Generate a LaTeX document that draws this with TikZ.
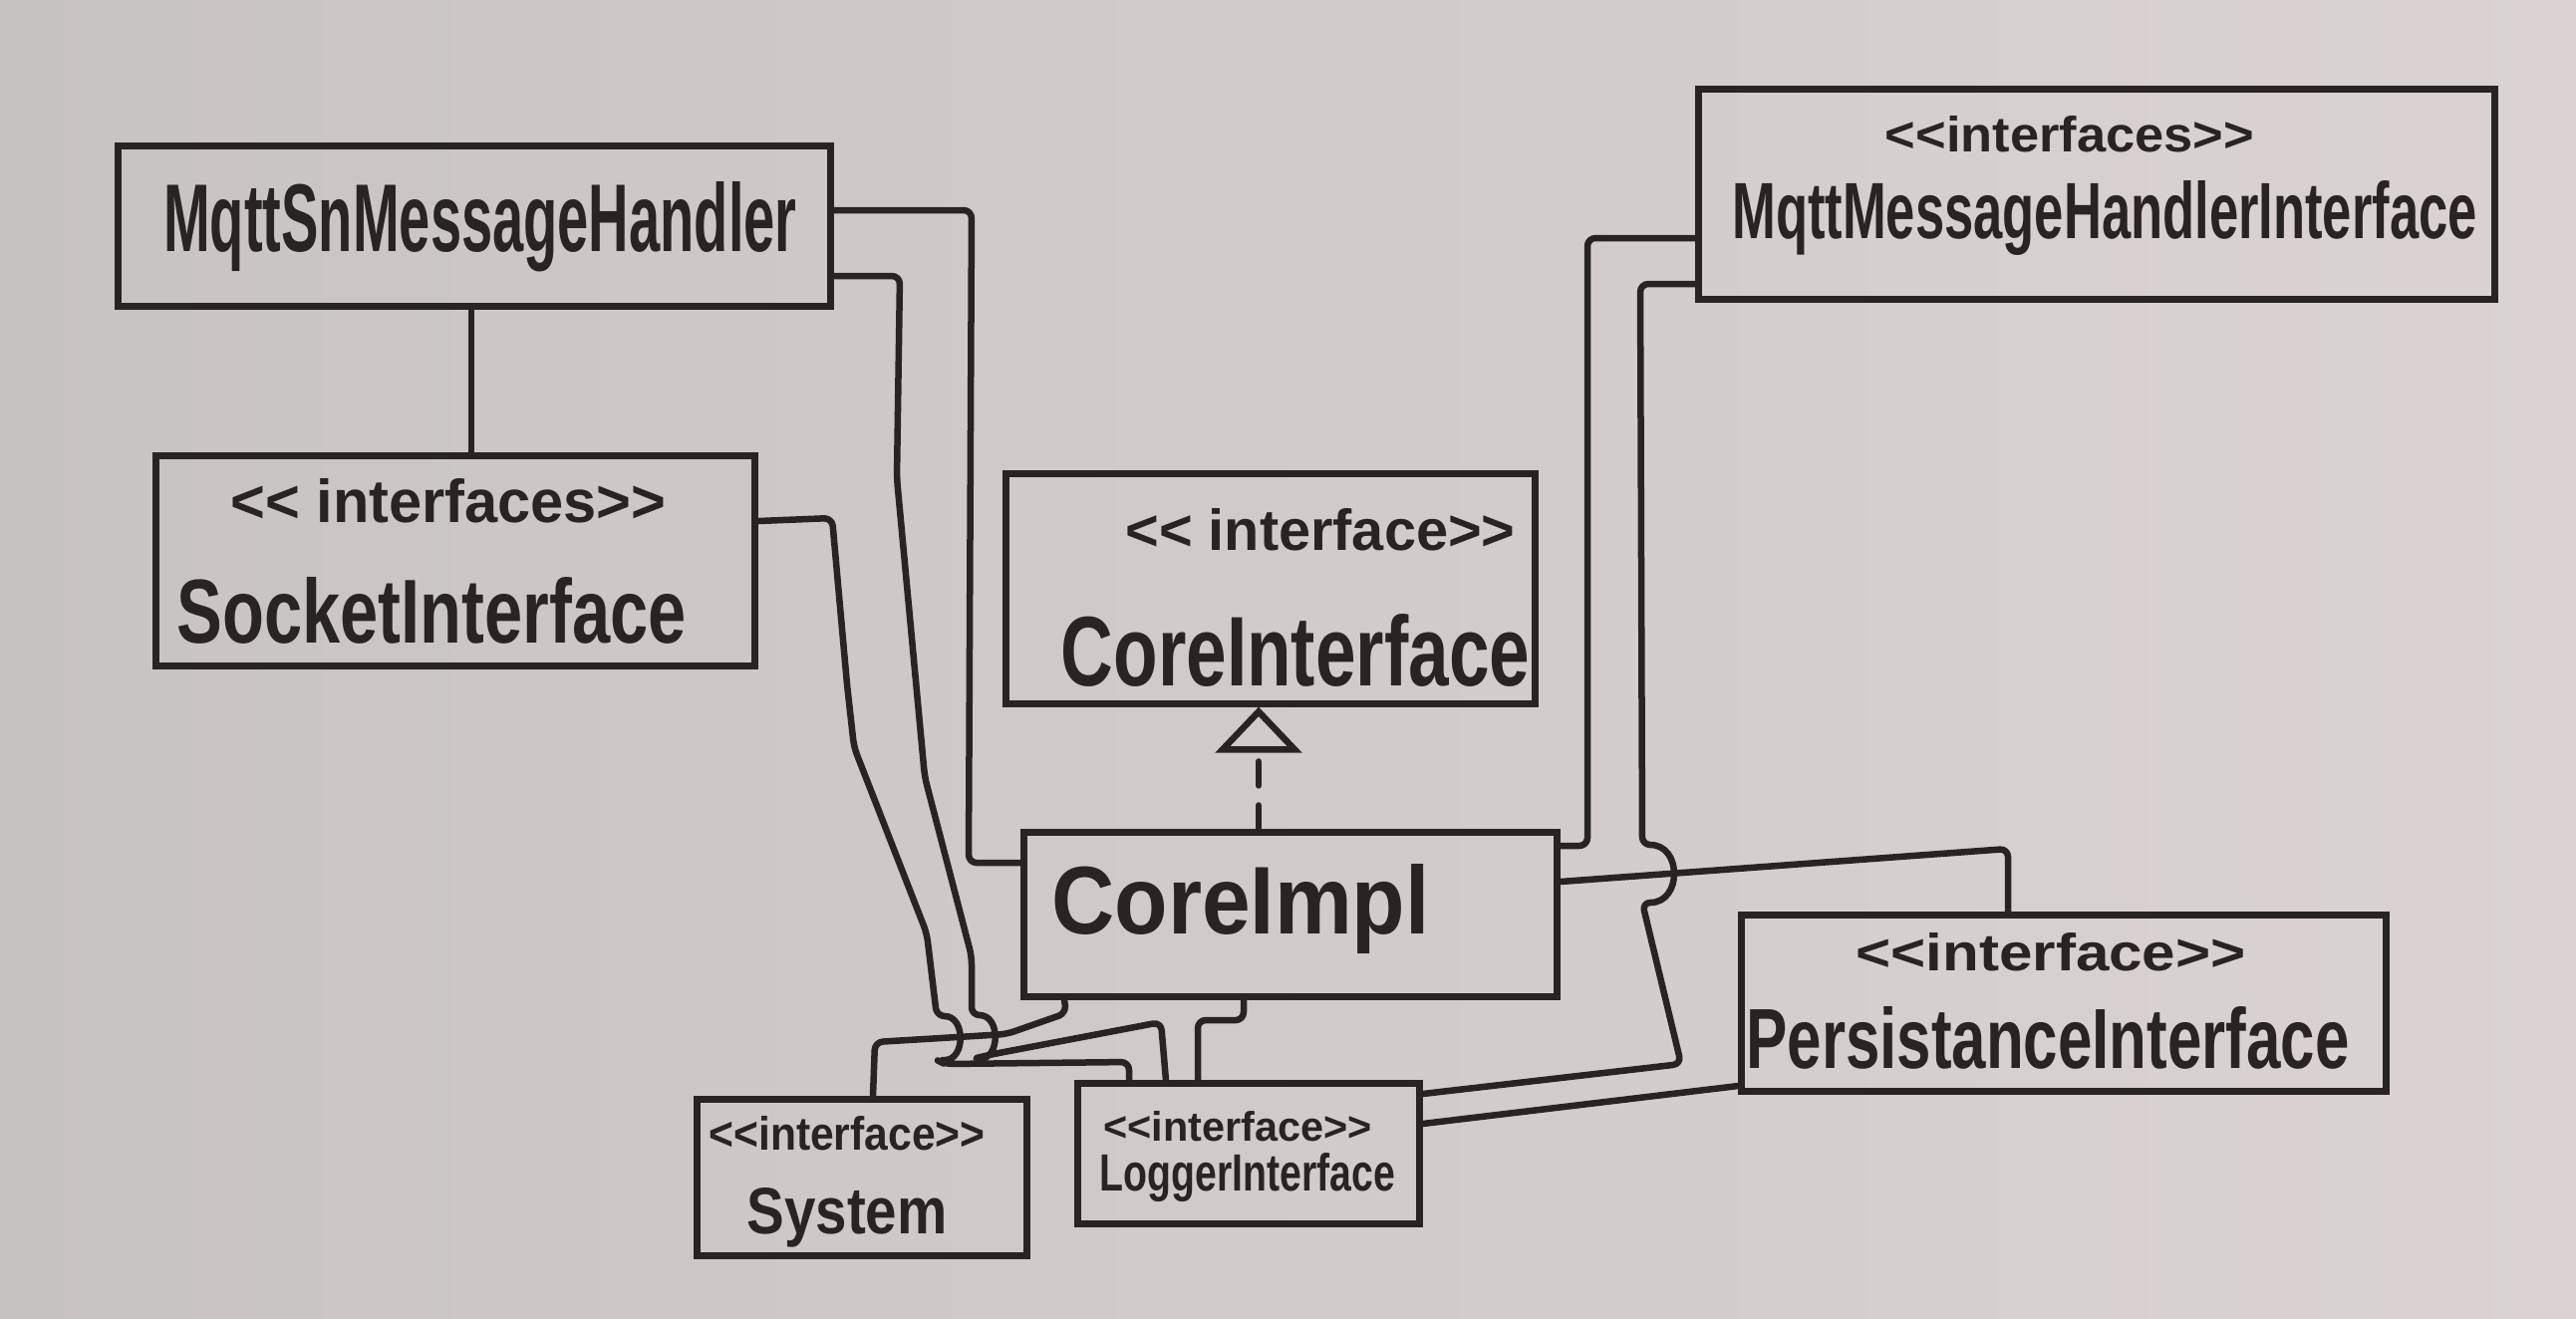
\documentclass[tikz,border=0pt]{standalone}
\usepackage{fontspec}
\usepackage{graphicx}
\newfontfamily\hand{Liberation Sans}
\usetikzlibrary{arrows.meta}
\definecolor{ink}{RGB}{40,36,36}
\definecolor{wbL}{RGB}{198,196,194}
\definecolor{wbR}{RGB}{218,211,209}
\newcommand{\hw}[3]{\resizebox{#1}{#2}{\hand\bfseries #3}}
\begin{document}
\begin{tikzpicture}[x=0.01cm,y=-0.01cm,
  box/.style={draw=ink, line width=0.07cm, rectangle, inner sep=0pt},
  txt/.style={text=ink, inner sep=0pt},
  wire/.style={draw=ink, line width=0.065cm, rounded corners=0.08cm, line cap=round, line join=round}]
\useasboundingbox (0,0) rectangle (2585,1323);
\fill[left color=wbL, right color=wbR] (0,0) rectangle (2585,1323);

% boxes
\node[box, minimum width=7.15cm, minimum height=1.61cm] (mqttsn) at (476,227) {};
\node[box, minimum width=7.98cm, minimum height=2.10cm] (mqttif) at (2104,195) {};
\node[box, minimum width=6.01cm, minimum height=2.10cm] (socket) at (457,563) {};
\node[box, minimum width=5.30cm, minimum height=2.30cm] (coreif) at (1275,591) {};
\node[box, minimum width=5.34cm, minimum height=1.64cm] (coreimpl) at (1295,918) {};
\node[box, minimum width=6.46cm, minimum height=1.76cm] (persist) at (2071,1007) {};
\node[box, minimum width=3.30cm, minimum height=1.56cm] (system) at (865,1182) {};
\node[box, minimum width=3.42cm, minimum height=1.40cm] (logger) at (1253,1158) {};

% texts
\node[txt] (mqttsnT) at (482,228) {\hw{6.35cm}{0.70cm}{MqttSnMessageHandler}};
\node[txt] (mqttifS) at (2077,135) {\hw{3.7cm}{0.36cm}{<{}<interfaces>{}>}};
\node[txt] (mqttifT) at (2112,219) {\hw{7.47cm}{0.58cm}{MqttMessageHandlerInterface}};
\node[txt] (socketS) at (450,503) {\hw{4.37cm}{0.44cm}{<{}< interfaces>{}>}};
\node[txt] (socketT) at (433,613) {\hw{5.11cm}{0.66cm}{SocketInterface}};
\node[txt] (coreifS) at (1325,532) {\hw{3.91cm}{0.42cm}{<{}< interface>{}>}};
\node[txt] (coreifT) at (1300,653) {\hw{4.70cm}{0.72cm}{CoreInterface}};
\node[txt] (coreimplT) at (1245,912) {\hw{3.79cm}{0.70cm}{CoreImpl}};
\node[txt] (persistS) at (2058,956) {\hw{3.91cm}{0.38cm}{<{}<interface>{}>}};
\node[txt] (persistT) at (2055,1042) {\hw{6.05cm}{0.62cm}{PersistanceInterface}};
\node[txt] (systemS) at (850,1138) {\hw{2.77cm}{0.34cm}{<{}<interface>{}>}};
\node[txt] (systemT) at (850,1222) {\hw{2.01cm}{0.46cm}{System}};
\node[txt] (loggerS) at (1242,1131) {\hw{2.69cm}{0.30cm}{<{}<interface>{}>}};
\node[txt] (loggerT) at (1252,1182) {\hw{2.96cm}{0.38cm}{LoggerInterface}};

% connectors
\draw[wire] (mqttsn.south -| 473,0) -- (socket.north -| 473,0);
\draw[wire] (mqttsn.east |- 0,211) -- (975,211) -- (972,866) -- (coreimpl.west |- 0,866);
\draw[wire] (mqttsn.east |- 0,277) -- (903,277) -- (900,480) -- (928,780) -- (975,960) -- (975,1019)
  .. controls (1004,1019) and (1004,1063) .. (975,1063)
  -- (997,1058) -- (1165,1026) -- (logger.north -| 1170,0);
\draw[wire] (socket.east |- 0,523) -- (835,520) -- (850,687) -- (857,750) -- (930,937) -- (940,1020)
  .. controls (969,1020) and (969,1064) .. (940,1064)
  -- (948,1068) -- (1133,1066) -- (logger.north -| 1133,0);
\draw[wire] (coreimpl.south -| 1068,0) -- (1070,1017) -- (1010,1038) -- (878,1046) -- (system.north -| 876,0);
\draw[wire] (coreimpl.south -| 1248,0) -- (1248,1024) -- (1202,1024) -- (logger.north -| 1202,0);
\draw[wire] (coreimpl.east |- 0,849) -- (1593,849) -- (1593,239) -- (mqttif.west |- 0,239);
\draw[wire] (mqttif.west |- 0,285) -- (1646,285) -- (1648,848)
  .. controls (1688,848) and (1688,906) .. (1648,906)
  -- (1687,1068) -- (logger.east |- 0,1098);
\draw[wire] (coreimpl.east |- 0,885) -- (2015,852) -- (persist.north -| 2015,0);
\draw[wire] (persist.west |- 0,1090) -- (logger.east |- 0,1128);
\draw[wire, rounded corners=0pt, dash pattern=on 0.24cm off 0.2cm,
  -{Triangle[open, length=0.46cm, width=0.86cm]}]
  (coreimpl.north -| 1263,0) -- (coreif.south -| 1263,0);
\end{tikzpicture}
\end{document}
